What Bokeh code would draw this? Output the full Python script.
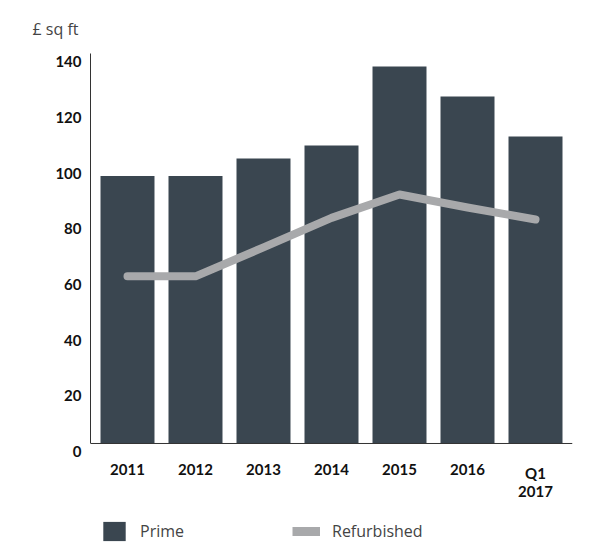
from bokeh.plotting import figure
from bokeh.models import (ColumnDataSource, FactorRange, Range1d, Legend, LegendItem,
                          FixedTicker, LinearAxis, Span)
from bokeh.core.properties import value
from bokeh.embed import file_html
from bokeh.resources import INLINE

# ---- data ----
periods = ["2011", "2012", "2013", "2014", "2015", "2016", "Q1\n2017"]
prime = [96, 96, 102.3, 107, 135.3, 124.6, 110.2]
refurbished = [60, 60, 70.4, 81, 89.4, 84.7, 80.4]
y_ticks = [0, 20, 40, 60, 80, 100, 120, 140]
unit_label = "£ sq ft"

BAR = "#3a4650"
LINE = "#a8a9ab"
TICK_FONT = "Lato"
TEXT_FONT = "Open Sans"

Y_MIN, Y_MAX = 0, 140
Y_ROOM = -35.9      # extra room below zero for category labels and legend
LABEL_SHIFT = 2.9   # y tick labels sit a little below their value

label_line1 = [s.split("\n")[0] for s in periods]
label_line2 = [s.split("\n")[1] if "\n" in s else "" for s in periods]

src = ColumnDataSource(dict(period=periods, prime=prime, refurbished=refurbished,
                            base=[Y_MIN] * len(periods),
                            l1=label_line1, l2=label_line2))

p = figure(x_range=FactorRange(factors=periods, range_padding=0.044,
                               range_padding_units="absolute"),
           y_range=Range1d(Y_ROOM, Y_MAX),
           width=573, height=543, output_backend="svg", toolbar_location=None,
           x_axis_location=None,
           min_border_left=90, min_border_right=1, min_border_top=53,
           min_border_bottom=0, title=unit_label)

bars = p.vbar(x="period", top="prime", bottom="base", width=0.794, source=src,
              fill_color=BAR, line_color=None)
p.line(x="period", y="refurbished", source=src, line_width=8,
       line_color=LINE, line_cap="round", line_join="round")
# swatch for the legend (a single point draws no segment in the plot)
legend_line = p.line(x=periods[:1], y=refurbished[:1], line_width=9,
                     line_color=LINE, line_cap="butt")

# category labels under the baseline (two rows)
for col, off in (("l1", 21), ("l2", 43)):
    p.text(x="period", y="base", text=col, source=src, y_offset=off,
           text_align="center", text_baseline="top",
           text_font=value(TICK_FONT), text_font_style="bold",
           text_font_size="15px", text_color="#111111", text_line_height=1.0)

# x axis baseline
p.add_layout(Span(location=Y_MIN, dimension="width", line_color="#333333",
                  line_width=1))

p.title.text_font = TEXT_FONT
p.title.text_font_style = "normal"
p.title.text_font_size = "16px"
p.title.text_color = "#444444"
p.title.offset = -58
p.title.standoff = 27

p.xgrid.visible = False
p.ygrid.visible = False
p.outline_line_color = None
p.background_fill_color = "white"
p.border_fill_color = "white"

# y axis: line only
ya = p.yaxis[0]
ya.ticker = FixedTicker(ticks=[])
ya.bounds = (Y_MIN, Y_MAX)
ya.axis_line_color = "#333333"
ya.major_tick_line_color = None
ya.minor_tick_line_color = None
ya.major_label_standoff = 0

# y tick labels, drawn slightly below their value as in the reference
p.extra_y_ranges = {"lab": Range1d(Y_ROOM + LABEL_SHIFT, Y_MAX + LABEL_SHIFT)}
ylab = LinearAxis(y_range_name="lab", ticker=FixedTicker(ticks=y_ticks),
                  bounds=(Y_MIN, Y_MAX))
ylab.axis_line_color = None
ylab.major_tick_line_color = None
ylab.minor_tick_line_color = None
ylab.major_label_standoff = 3
ylab.major_label_text_font = TICK_FONT
ylab.major_label_text_font_style = "bold"
ylab.major_label_text_font_size = "15px"
ylab.major_label_text_color = "#111111"
p.add_layout(ylab, "left")

legend = Legend(items=[LegendItem(label="Prime", renderers=[bars]),
                       LegendItem(label="Refurbished", renderers=[legend_line])],
                orientation="horizontal", location=(10, 0),
                glyph_width=28, glyph_height=24, label_standoff=12, spacing=108,
                padding=0, margin=0, border_line_color=None,
                background_fill_alpha=0,
                label_text_font=TEXT_FONT, label_text_font_size="16px",
                label_text_color="#444444")
p.add_layout(legend, "center")

open("out.html", "w").write(file_html(p, INLINE))
